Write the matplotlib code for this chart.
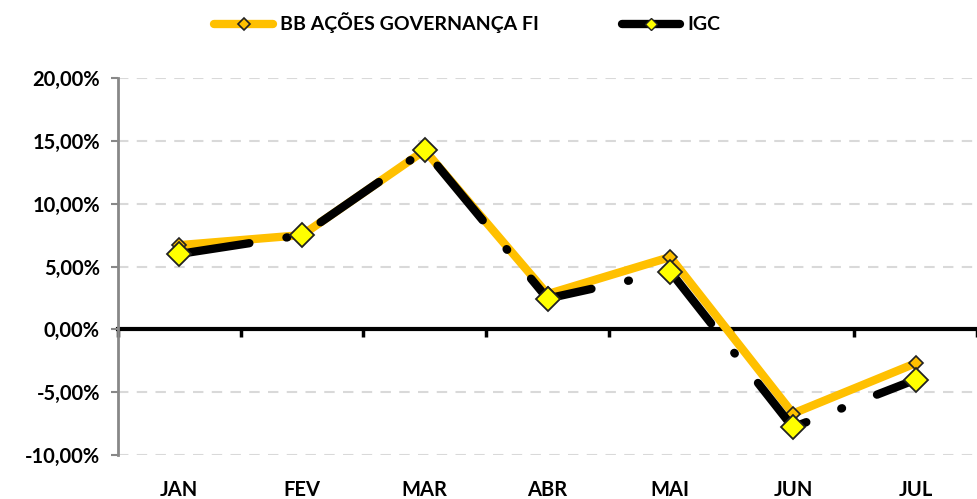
import matplotlib
matplotlib.use("Agg")
import matplotlib.pyplot as plt
from matplotlib.lines import Line2D
from matplotlib.ticker import FuncFormatter

plt.rcParams['font.family'] = ['Lato', 'DejaVu Sans']
plt.rcParams['font.weight'] = 'bold'

meses = ['JAN', 'FEV', 'MAR', 'ABR', 'MAI', 'JUN', 'JUL']
bb_fundo = [6.7, 7.5, 14.25, 2.8, 5.75, -6.7, -2.7]
igc = [6.0, 7.5, 14.25, 2.45, 4.6, -7.8, -4.0]

fig = plt.figure(figsize=(9.78, 4.99), dpi=100)
ax = fig.add_axes([118 / 978, 1 - 455 / 499, (977 - 118) / 978, (455 - 78) / 499])

x = range(len(meses))
ax.plot(x, bb_fundo, color='#FFC000', lw=6, marker='D', ms=7,
        markerfacecolor='#FFC000', markeredgecolor='#222222', markeredgewidth=1.2,
        zorder=3, solid_capstyle='round')
ax.plot(x, igc, color='black', lw=6, marker='D', ms=12,
        markerfacecolor='#FFFF00', markeredgecolor='#222222', markeredgewidth=1.3,
        dashes=(8.5, 4.5, 0.1, 4.5), dash_capstyle='round', zorder=4)

ax.set_xlim(-0.5, len(meses) - 0.5)
ax.set_ylim(-10, 20)
ax.set_yticks([-10, -5, 0, 5, 10, 15, 20])
ax.yaxis.set_major_formatter(FuncFormatter(lambda v, p: f'{v:.2f}%'.replace('.', ',')))
ax.grid(axis='y', color='#D9D9D9', lw=1.5, dashes=(5, 4))
ax.set_axisbelow(True)
for v, gl in zip(ax.get_yticks(), ax.get_ygridlines()):
    if v == 0:
        gl.set_visible(False)

ax.set_xticks(list(x))
ax.set_xticklabels(meses)
ax.tick_params(axis='x', length=0, pad=18, labelsize=14.5)
ax.tick_params(axis='y', length=5, width=1.5, color='#888888', labelsize=14.5, pad=8)

for s in ['top', 'right', 'bottom']:
    ax.spines[s].set_visible(False)
ax.spines['left'].set_color('#888888')
ax.spines['left'].set_linewidth(2)

# eixo do zero com marcas entre os meses
zero = ax.secondary_xaxis(10 / 30)
zero.set_xticks([i + 0.5 for i in range(-1, len(meses))])
zero.tick_params(length=6, width=2.5, color='black', labelbottom=False, labelsize=0)
zero.spines['bottom'].set_linewidth(3)
zero.spines['bottom'].set_color('black')

handles = [
    Line2D([], [], color='#FFC000', lw=6, marker='D', ms=6, markerfacecolor='#FFC000',
           markeredgecolor='#222222', markeredgewidth=1.2, solid_capstyle='round'),
    Line2D([], [], color='black', lw=6, marker='D', ms=6, markerfacecolor='#FFFF00',
           markeredgecolor='#222222', markeredgewidth=1, solid_capstyle='round'),
]
fig.legend(handles, ['BB AÇÕES GOVERNANÇA FI', 'IGC'], loc='upper left',
           bbox_to_anchor=(197 / 978, 1.01), ncol=2, frameon=False, numpoints=1,
           fontsize=14, columnspacing=4.3, handlelength=3.0, handletextpad=0.35)

fig.savefig('out.png', dpi=100)
